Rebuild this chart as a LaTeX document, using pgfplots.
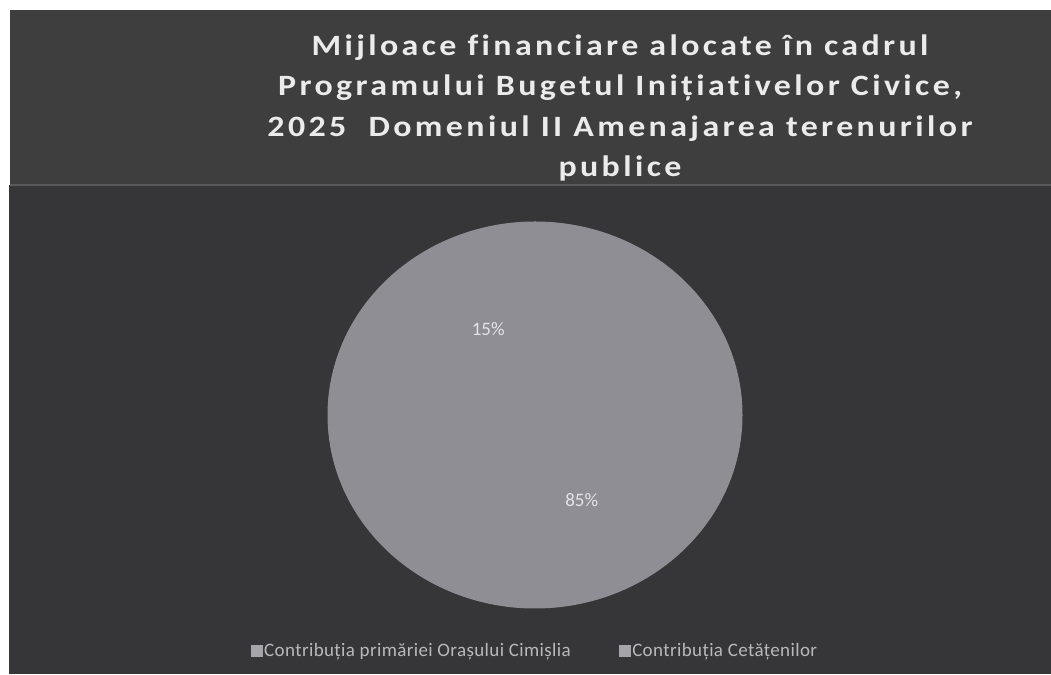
\documentclass[border=0pt]{standalone}
\usepackage{pgfplots}
\pgfplotsset{compat=1.18}
\usepackage{pgfplotstable}
\usepackage{fontspec}
\setmainfont{Carlito}[Ligatures={NoCommon}]
\newfontfamily\titlefont[FakeStretch=1.15, LetterSpace=11.5, Ligatures={NoCommon}]{Carlito}
\newfontfamily\legfont[LetterSpace=2, Ligatures={NoCommon}]{Carlito}

\definecolor{bandbg}{RGB}{62,62,63}
\definecolor{mainbg}{RGB}{54,54,56}
\definecolor{piefill}{RGB}{142,142,148}
\definecolor{lbltext}{RGB}{228,228,232}
\definecolor{legtext}{RGB}{185,185,188}
\definecolor{legmark}{RGB}{165,165,170}

% share of each contributor, in percent
\pgfplotstableread[col sep=comma]{
label,value
Contribuția primăriei Orașului Cimișlia,85
Contribuția Cetățenilor,15
}\piedata

\begin{document}
\begin{tikzpicture}
\pgfplotstablegetelem{0}{value}\of\piedata \let\va\pgfplotsretval
\pgfplotstablegetelem{1}{value}\of\piedata \let\vb\pgfplotsretval
\pgfmathsetmacro\total{\va+\vb}
\pgfmathsetmacro\aS{90}
\pgfmathsetmacro\aM{90-360*(\va/\total)}
\pgfmathsetmacro\aE{90-360}
\pgfmathsetmacro\mA{(\aS+\aM)/2}
\pgfmathsetmacro\mB{(\aM+\aE)/2}
\pgfmathtruncatemacro\pA{round(100*(\va/\total))}
\pgfmathtruncatemacro\pB{round(100*(\vb/\total))}
\begin{axis}[
    x=1pt, y=1pt,
    xmin=0, xmax=1051, ymin=0, ymax=674,
    hide axis,
    clip=false,
    legend columns=2,
    legend style={at={(0.509,0.034)}, anchor=center, draw=none, fill=none,
        font=\legfont\fontsize{19}{22}\selectfont, text=legtext,
        /tikz/every even column/.append style={column sep=46pt}},
]
\coordinate (sw) at (axis cs:0,0);
\coordinate (ne) at (axis cs:1051,674);
% paper and scan background
\fill[white] (axis cs:0,0) rectangle (axis cs:1051,674);
\fill[mainbg] (axis cs:9,0) rectangle (axis cs:1051,489);
\fill[bandbg] (axis cs:10,489) rectangle (axis cs:1051,664);
\fill[gray!70!black] (axis cs:10,488) rectangle (axis cs:1051,490);

% pie slices
\filldraw[piefill, line width=1pt] (axis cs:535,259) -- ++(\aS:207pt and 193pt)
    arc[start angle=\aS, end angle=\aM, x radius=207pt, y radius=193pt] -- cycle;
\filldraw[piefill, line width=1pt] (axis cs:535,259) -- ++(\aM:207pt and 193pt)
    arc[start angle=\aM, end angle=\aE, x radius=207pt, y radius=193pt] -- cycle;

% data labels
\path (axis cs:535,259) ++(\mA:103pt and 96pt)
    node[text=lbltext, font=\fontsize{19}{22}\selectfont] {\pA\%};
\path (axis cs:535,259) ++(\mB:103pt and 96pt)
    node[text=lbltext, font=\fontsize{19}{22}\selectfont] {\pB\%};

% title
\node[text=white!92!black, align=center,
      font=\titlefont\bfseries\fontsize{29.5}{40.5}\selectfont]
    at (axis cs:620,566) {Mijloace financiare alocate în cadrul\\
    Programului Bugetul Inițiativelor Civice,\\
    2025\ \ Domeniul II Amenajarea terenurilor\\
    publice};

\addlegendimage{legend image code/.code={\fill[legmark] (-3pt,-5.5pt) rectangle (8pt,5.5pt);}}
\addlegendentry{Contribuția primăriei Orașului Cimișlia}
\addlegendimage{legend image code/.code={\fill[legmark] (-3pt,-5.5pt) rectangle (8pt,5.5pt);}}
\addlegendentry{Contribuția Cetățenilor}
\end{axis}
\pgfresetboundingbox
\useasboundingbox (sw) rectangle (ne);
\end{tikzpicture}
\end{document}
